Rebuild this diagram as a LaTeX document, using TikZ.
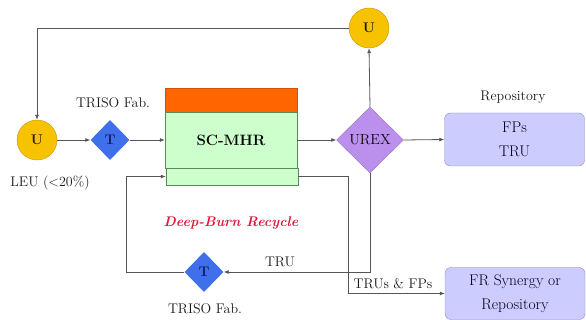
\documentclass[tikz,border=0pt]{standalone}
\usetikzlibrary{shapes.geometric,arrows.meta}

\definecolor{ugold}{HTML}{F7C200}
\definecolor{ugoldline}{HTML}{C99A00}
\definecolor{tblue}{HTML}{3F6FEA}
\definecolor{tnavy}{HTML}{10205A}
\definecolor{urexfill}{HTML}{BB90EC}
\definecolor{urexline}{HTML}{9A70C8}
\definecolor{corefill}{HTML}{CCFFCC}
\definecolor{coreline}{HTML}{5A8A5A}
\definecolor{toporange}{HTML}{FF6600}
\definecolor{repofill}{HTML}{CCCCFF}
\definecolor{repoline}{HTML}{8C8CC8}
\definecolor{flowline}{HTML}{555555}
\definecolor{burnred}{HTML}{E2183C}

\tikzset{
  ucircle/.style={circle,draw=ugoldline,fill=ugold,minimum size=40pt,inner sep=0pt,
    font=\fontsize{14}{14}\selectfont\bfseries,text=black!80!brown},
  tdiamond/.style={diamond,fill=tblue,minimum width=39pt,minimum height=40pt,inner sep=0pt,
    font=\fontsize{14}{14}\selectfont\bfseries,text=tnavy},
  urexdiamond/.style={diamond,draw=urexline,fill=urexfill,minimum width=67pt,minimum height=66pt,
    inner sep=0pt,font=\fontsize{14.5}{14.5}\selectfont,text=black!90!violet},
  corebox/.style={rectangle,draw=coreline,fill=corefill,inner sep=0pt},
  repobox/.style={rectangle,rounded corners=6pt,draw=repoline,fill=repofill,align=center,
    minimum width=140pt,inner sep=0pt,font=\fontsize{15.5}{24}\selectfont,text=black!90!blue},
  lbl/.style={font=\fontsize{14}{14}\selectfont,text=black!90},
  flow/.style={draw=flowline,line width=0.8pt,-{Latex[length=5pt,width=4pt]}}
}

\begin{document}
\begin{tikzpicture}[x=1pt,y=-1pt]
\useasboundingbox (0,0) rectangle (586,320);

% fresh fuel side
\node[ucircle] (uleft) at (37,140) {U};
\node[tdiamond] (tfab) at (110,140) {T};
\node[lbl] (tfablbl) at (113,103) {TRISO Fab.};
\node[lbl] (leulbl) at (50,183) {LEU (<20\%)};

% reactor
\node[corebox,fill=toporange,draw=toporange!80!black,minimum width=132pt,minimum height=24pt] (coretop) at (231,100) {};
\node[corebox,minimum width=132pt,minimum height=56pt,font=\fontsize{15}{15}\selectfont\bfseries] (core) at (231,140) {SC-MHR};
\node[corebox,minimum width=132pt,minimum height=17pt] (corebot) at (232,176.5) {};

% reprocessing
\node[urexdiamond] (urex) at (370,140) {UREX};
\node[ucircle] (utop) at (369,28) {U};
\node[repobox,minimum height=53pt] (repo) at (514.5,139.5) {FPs\\TRU};
\node[lbl] (repolbl) at (513,97) {Repository};
\node[repobox,minimum height=52pt] (fr) at (515,293.5) {FR Synergy or\\Repository};

% recycle loop
\node[tdiamond] (tloop) at (204,272) {T};
\node[lbl] (tlooplbl) at (205,309) {TRISO Fab.};
\node[lbl] (trulbl) at (280,262) {TRU};
\node[lbl] (mixlbl) at (393,284) {TRUs \& FPs};
\node[font=\fontsize{14}{14}\selectfont\bfseries\itshape,text=burnred] (burnlbl) at (231,223) {Deep-Burn Recycle};
\coordinate (loopcorner) at (126,272);
\coordinate (splitcorner) at (348,176.5);

\draw[flow] (utop.west) -| (uleft.north);
\draw[flow] (uleft.east) -- (tfab.west);
\draw[flow] (tfab.east) -- (core.west);
\draw[flow] (core.east) -- (urex.west);
\draw[flow] (urex.north) -- (utop.south);
\draw[flow] (urex.east) -- (repo.west);
\draw[flow] (urex.south) |- (tloop.east);
\draw[flow] (tloop.west) -- (loopcorner) |- (corebot.west);
\draw[flow] (corebot.east) -- (splitcorner) |- (fr.west);

\end{tikzpicture}
\end{document}
